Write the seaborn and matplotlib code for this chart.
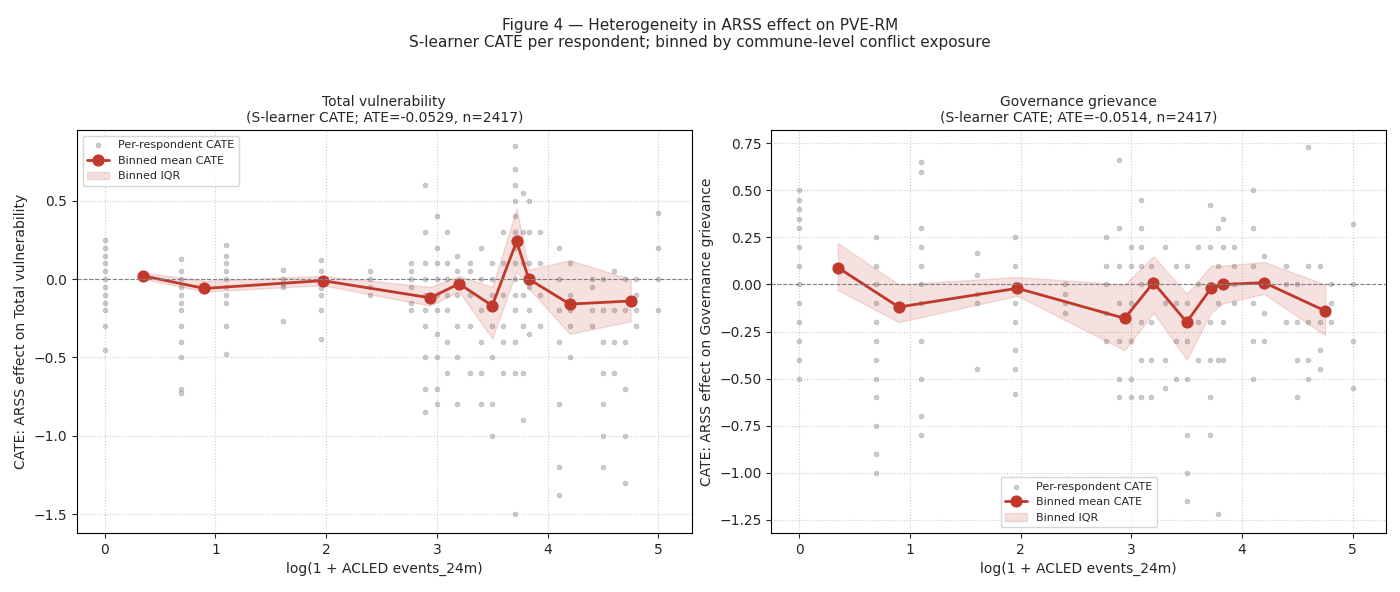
import matplotlib.pyplot as plt
import seaborn as sns
import pandas as pd

# x positions of respondent columns, log(1 + events)
col_x = [0, 0.69, 1.1, 1.61, 1.95, 2.4, 2.77, 2.89, 3.0, 3.09, 3.18, 3.3, 3.4, 3.5,
         3.6, 3.71, 3.78, 3.83, 3.93, 4.1, 4.2, 4.4, 4.5, 4.6, 4.7, 4.8, 5.0]

# per-respondent CATE, total vulnerability (read approx. from picture)
tv_cols = [
    [0.25, 0.2, 0.15, 0.1, 0.05, 0.0, -0.05, -0.1, -0.15, -0.2, -0.3, -0.45],
    [0.13, 0.05, 0, -0.05, -0.1, -0.15, -0.2, -0.3, -0.4, -0.5, -0.7, -0.73],
    [0.22, 0.15, 0.1, 0.05, 0, -0.05, -0.1, -0.15, -0.3, -0.48],
    [0.06, 0.0, -0.03, -0.05, -0.27],
    [0.12, 0.05, 0.0, -0.03, -0.06, -0.1, -0.2, -0.38],
    [0.05, 0, -0.05, -0.1],
    [0.1, 0.05, 0, -0.05, -0.15, -0.2],
    [0.6, 0.3, 0.1, 0, -0.1, -0.2, -0.3, -0.5, -0.7, -0.85],
    [0.4, 0.2, 0.1, 0, -0.1, -0.2, -0.35, -0.5, -0.7, -0.8],
    [0.3, 0.1, 0, -0.1, -0.2, -0.4, -0.6],
    [0.15, 0.05, -0.05, -0.1, -0.3, -0.5, -0.8],
    [0.1, 0.05, -0.1, -0.3, -0.6],
    [0.2, 0, -0.2, -0.4, -0.6, -0.8],
    [0.1, 0, -0.1, -0.3, -0.5, -0.8, -1.0],
    [0.3, 0.1, -0.1, -0.3, -0.4, -0.6],
    [0.85, 0.7, 0.6, 0.5, 0.4, 0.3, 0.2, 0.1, 0, -0.1, -0.2, -0.4, -0.6, -1.5],
    [0.55, 0.3, 0.1, -0.1, -0.3, -0.6, -0.9],
    [0.5, 0.3, 0.1, -0.05, -0.2, -0.35],
    [0.3, 0.1, -0.1, -0.3],
    [0.2, 0, -0.2, -0.4, -0.8, -1.2, -1.38],
    [0.1, -0.1, -0.2, -0.3, -0.5],
    [0.0, -0.05, -0.2, -0.3],
    [0, -0.2, -0.4, -0.6, -0.8, -1.0, -1.2],
    [0.05, -0.2, -0.4, -0.6],
    [0, -0.2, -0.4, -0.7, -1.0, -1.3],
    [0.0, -0.1, -0.2, -0.3],
    [0.42, 0.2, 0, -0.2],
]

# per-respondent CATE, governance grievance
gg_cols = [
    [0.5, 0.45, 0.4, 0.35, 0.3, 0.2, 0.1, 0, -0.1, -0.2, -0.3, -0.4, -0.5],
    [0.25, 0.1, 0, -0.1, -0.2, -0.3, -0.4, -0.5, -0.6, -0.75, -0.9, -1.0],
    [0.65, 0.6, 0.3, 0.2, 0.1, 0, -0.1, -0.3, -0.5, -0.7, -0.8],
    [0.17, 0.05, -0.05, -0.1, -0.45],
    [0.25, 0.1, 0, -0.1, -0.2, -0.35, -0.45, -0.58],
    [0.0, -0.05, -0.1, -0.15],
    [0.25, 0.1, 0, -0.15, -0.3],
    [0.66, 0.3, 0.1, -0.1, -0.3, -0.5, -0.6],
    [0.2, 0.1, -0.1, -0.3, -0.5, -0.6],
    [0.45, 0.3, 0.2, 0.1, 0, -0.2, -0.4, -0.6],
    [0.1, 0, -0.2, -0.4, -0.6],
    [0.2, -0.1, -0.4, -0.55],
    [0.1, -0.1, -0.3, -0.5],
    [0.1, -0.1, -0.3, -0.5, -0.8, -1.0, -1.15],
    [0.2, 0, -0.2, -0.4],
    [0.42, 0.2, 0, -0.2, -0.4, -0.6, -0.8],
    [0.3, 0.1, -0.1, -0.4, -1.22],
    [0.35, 0.2, 0, -0.2, -0.4],
    [0.2, 0.1, 0, -0.1],
    [0.5, 0.3, 0.1, -0.1, -0.3, -0.5],
    [0.15, 0, -0.15, -0.3],
    [0.1, 0, -0.2],
    [0.0, -0.2, -0.4, -0.6],
    [0.73, 0.1, -0.2, -0.4, -0.5],
    [0.1, -0.2, -0.35, -0.45],
    [0.0, -0.1, -0.2],
    [0.32, 0, -0.3, -0.55],
]

bin_x = [0.35, 0.9, 1.97, 2.94, 3.2, 3.5, 3.72, 3.83, 4.2, 4.75]
tv_mean = [0.02, -0.06, -0.01, -0.12, -0.03, -0.17, 0.24, 0.0, -0.16, -0.14]
tv_lo = [0.0, -0.08, -0.04, -0.17, -0.08, -0.38, 0.05, -0.06, -0.35, -0.27]
tv_hi = [0.04, -0.01, 0.02, -0.05, 0.02, -0.05, 0.45, 0.06, 0.12, 0.0]
gg_mean = [0.09, -0.12, -0.02, -0.18, 0.01, -0.2, -0.02, 0.0, 0.01, -0.14]
gg_lo = [-0.03, -0.2, -0.06, -0.35, -0.15, -0.4, -0.15, -0.1, -0.05, -0.27]
gg_hi = [0.22, 0.0, 0.04, 0.0, 0.15, -0.05, 0.1, 0.1, 0.12, 0.0]

panels = [
    ("Total vulnerability\n(S-learner CATE; ATE=-0.0529, n=2417)", "Total vulnerability",
     tv_cols, tv_mean, tv_lo, tv_hi, "upper left", (-1.62, 0.95), [-1.5, -1.0, -0.5, 0.0, 0.5]),
    ("Governance grievance\n(S-learner CATE; ATE=-0.0514, n=2417)", "Governance grievance",
     gg_cols, gg_mean, gg_lo, gg_hi, "lower center", (-1.32, 0.82),
     [-1.25, -1.0, -0.75, -0.5, -0.25, 0.0, 0.25, 0.5, 0.75]),
]

sns.set_style("white")
plt.rcParams['font.family'] = ['DejaVu Sans']
fig, axes = plt.subplots(1, 2, figsize=(14, 5.92), dpi=100)
red = "#c0392b"

for ax, (title, name, cols, mean, lo, hi, loc, ylim, yt) in zip(axes, panels):
    df = pd.DataFrame([(x, y) for x, ys in zip(col_x, cols) for y in ys], columns=["x", "y"])
    sns.scatterplot(data=df, x="x", y="y", ax=ax, color="gray", alpha=0.4, s=12,
                    edgecolor="gray", linewidth=0.5, label="Per-respondent CATE")
    ax.fill_between(bin_x, lo, hi, color=red, alpha=0.15, label="Binned IQR")
    sns.lineplot(x=bin_x, y=mean, ax=ax, color=red, marker="o", markersize=8, lw=2,
                 markeredgecolor=red, label="Binned mean CATE", sort=False)
    ax.axhline(0, color="gray", ls="--", lw=0.8)
    ax.grid(True, ls=":", color="#cccccc")
    for s in ax.spines.values():
        s.set_color("black")
    ax.set_xlim(-0.25, 5.3)
    ax.set_ylim(*ylim)
    ax.set_yticks(yt)
    ax.set_xticks([0, 1, 2, 3, 4, 5])
    ax.tick_params(left=True, bottom=True, labelsize=10)
    ax.set_title(title, fontsize=10)
    ax.set_xlabel("log(1 + ACLED events_24m)", fontsize=10)
    ax.set_ylabel(f"CATE: ARSS effect on {name}", fontsize=10)
    h, l = ax.get_legend_handles_labels()
    order = [l.index("Per-respondent CATE"), l.index("Binned mean CATE"), l.index("Binned IQR")]
    ax.legend([h[i] for i in order], [l[i] for i in order], loc=loc, fontsize=8)

fig.suptitle("Figure 4 — Heterogeneity in ARSS effect on PVE-RM\n"
             "S-learner CATE per respondent; binned by commune-level conflict exposure",
             fontsize=11, y=0.97)
fig.subplots_adjust(left=0.055, right=0.99, top=0.78, bottom=0.1, wspace=0.13)
fig.savefig("out.png")
